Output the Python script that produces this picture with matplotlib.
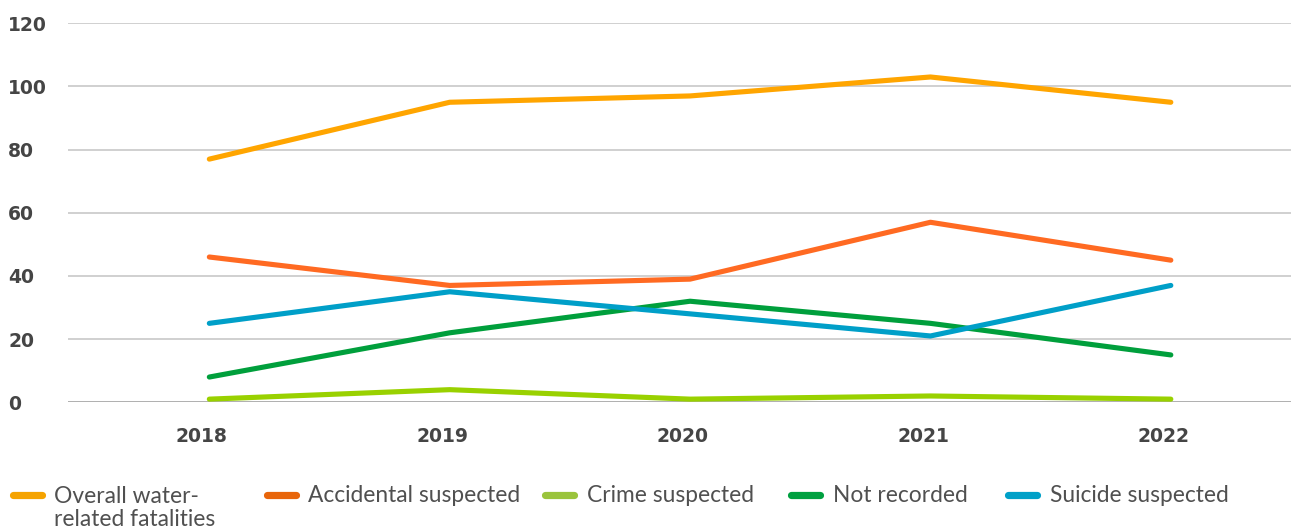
import matplotlib
matplotlib.use("Agg")
import matplotlib.pyplot as plt
from matplotlib.lines import Line2D
import matplotlib.transforms as mtransforms

# ---- data ----
years = ["2018", "2019", "2020", "2021", "2022"]
overall = [77, 95, 97, 103, 95]
accidental = [46, 37, 39, 57, 45]
crime = [1, 4, 1, 2, 1]
not_recorded = [8, 22, 32, 25, 15]
suicide = [25, 35, 28, 21, 37]
y_ticks = [0, 20, 40, 60, 80, 100, 120]

series_labels = ["Overall water-\nrelated fatalities", "Accidental suspected",
                 "Crime suspected", "Not recorded", "Suicide suspected"]
series_values = [overall, accidental, crime, not_recorded, suicide]
line_colors = ["#FFA500", "#FF6A22", "#99D100", "#009F3C", "#009FC8"]
legend_colors = ["#F5A300", "#E8650A", "#9AC43C", "#00A040", "#00A0C8"]

W, H = 1291, 528
fig = plt.figure(figsize=(W / 100, H / 100), dpi=100)
ax = fig.add_axes([68 / W, 1 - 402.3 / H, (W - 68) / W, (402.3 - 23.3) / H])

x = list(range(len(years)))
order = [0, 1, 4, 3, 2]
for i in order:
    ax.plot(x, series_values[i], color=line_colors[i], lw=3.7,
            solid_capstyle="round", solid_joinstyle="round", clip_on=False,
            zorder=3 + i)

ax.set_ylim(0, 120)
ax.set_xlim(-0.588, 4.5)
ax.set_yticks(y_ticks)
ax.set_yticklabels([str(v) for v in y_ticks])
ax.set_xticks(x)
ax.set_xticklabels(years)

for s in ax.spines.values():
    s.set_visible(False)
ax.grid(axis="y", color="#C4C4C4", lw=1.1)
ax.set_axisbelow(True)
ax.axhline(0, color="#A8A8A8", lw=1.1, zorder=1)
ax.tick_params(axis="both", length=0)
ax.tick_params(axis="y", pad=(68 - 8) / 1.389)
ax.tick_params(axis="x", pad=18)

for lab in ax.get_yticklabels():
    lab.set_fontfamily("DejaVu Sans")
    lab.set_fontweight("bold")
    lab.set_fontsize(13.5)
    lab.set_color("#454545")
    lab.set_horizontalalignment("left")

offset = mtransforms.ScaledTranslation(-7.5 / 100, 0, fig.dpi_scale_trans)
for lab in ax.get_xticklabels():
    lab.set_fontfamily("DejaVu Sans")
    lab.set_fontweight("bold")
    lab.set_fontsize(13.5)
    lab.set_color("#454545")
    lab.set_transform(lab.get_transform() + offset)

# ---- legend (manual layout) ----
handle_x = [13, 267, 545, 791, 1008]
text_x = [54.5, 308, 587, 833, 1050]
hy = 495
first_baseline = 502.5
line_gap = 24
for i in range(5):
    fig.add_artist(Line2D([handle_x[i] / W, (handle_x[i] + 29) / W],
                          [1 - hy / H, 1 - hy / H], transform=fig.transFigure,
                          color=legend_colors[i], lw=5.2, solid_capstyle="round"))
    nlines = series_labels[i].count("\n")
    fig.text(text_x[i] / W, 1 - (first_baseline + line_gap * nlines) / H,
             series_labels[i], fontsize=16.4, family="Lato", color="#505050",
             ha="left", va="baseline", linespacing=1.12)

fig.savefig("out.png", dpi=100)
